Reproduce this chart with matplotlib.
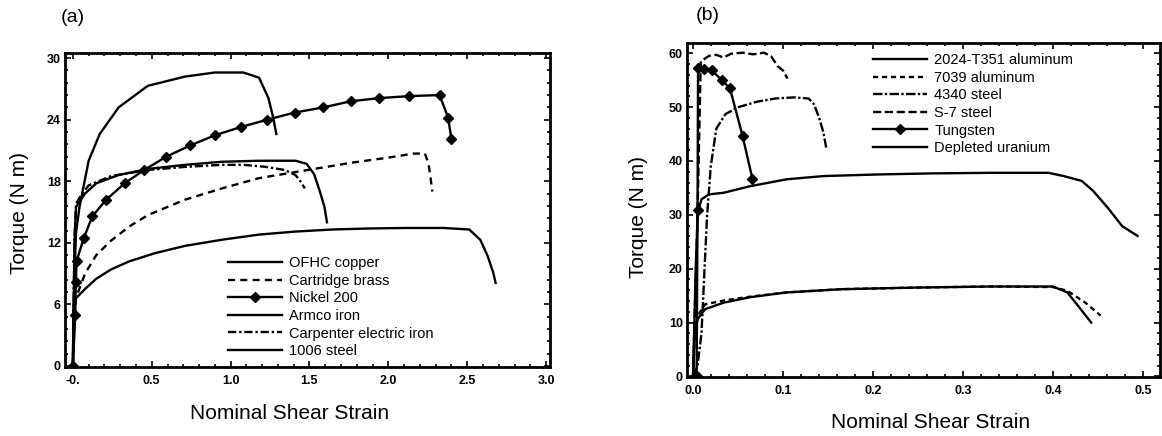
import matplotlib
matplotlib.use("Agg")
import matplotlib.pyplot as plt
from matplotlib.ticker import MultipleLocator, FixedLocator, FixedFormatter

plt.rcParams['font.family'] = ['Liberation Sans', 'DejaVu Sans']

# ---------------- Panel (a) data ----------------
a_labels = ["OFHC copper", "Cartridge brass", "Nickel 200", "Armco iron",
            "Carpenter electric iron", "1006 steel"]

# bottom solid curve
copper_x = [0.0, 0.003, 0.007, 0.077, 0.148, 0.241, 0.358, 0.522, 0.71, 0.944, 1.178,
            1.412, 1.646, 1.88, 2.115, 2.349, 2.513, 2.583, 2.63, 2.665, 2.68]
copper_y = [0.0, 4.5, 6.4, 7.5, 8.5, 9.4, 10.2, 11.0, 11.7, 12.3, 12.8,
            13.1, 13.3, 13.4, 13.45, 13.45, 13.3, 12.3, 10.7, 9.1, 8.1]

brass_x = [0.0, 0.01, 0.019, 0.077, 0.148, 0.241, 0.358, 0.475, 0.71, 0.944, 1.178,
           1.412, 1.529, 1.763, 1.998, 2.162, 2.232, 2.255, 2.267, 2.279]
brass_y = [0.0, 4.5, 6.6, 9.0, 10.8, 12.2, 13.6, 14.7, 16.2, 17.3, 18.3,
           18.9, 19.2, 19.8, 20.3, 20.7, 20.7, 19.7, 18.4, 17.0]

nickel_x = [0.0, 0.015, 0.019, 0.023, 0.070, 0.124, 0.211, 0.328, 0.452, 0.593, 0.745,
            0.904, 1.068, 1.232, 1.407, 1.588, 1.763, 1.939, 2.131, 2.325, 2.379, 2.40]
nickel_y = [0.0, 5.0, 8.2, 10.2, 12.5, 14.6, 16.2, 17.8, 19.1, 20.4, 21.5,
            22.5, 23.3, 24.0, 24.7, 25.2, 25.8, 26.1, 26.3, 26.4, 24.2, 22.1]

armco_x = [0.0, 0.01, 0.02, 0.077, 0.148, 0.288, 0.475, 0.71, 0.944, 1.178, 1.412,
           1.482, 1.529, 1.564, 1.595, 1.611]
armco_y = [0.0, 12.0, 15.5, 16.8, 17.8, 18.6, 19.2, 19.6, 19.9, 20.0, 20.0,
           19.7, 18.7, 17.1, 15.5, 14.0]

carp_x = [0.0, 0.01, 0.02, 0.042, 0.10, 0.241, 0.475, 0.71, 0.944, 1.084, 1.225,
          1.342, 1.412, 1.447, 1.471]
carp_y = [0.0, 12.5, 15.8, 16.4, 17.6, 18.5, 19.1, 19.4, 19.6, 19.6, 19.4,
          19.1, 18.6, 17.9, 17.3]

# top solid curve
steel_x = [0.0, 0.01, 0.02, 0.042, 0.10, 0.17, 0.29, 0.475, 0.71, 0.90, 1.08,
           1.18, 1.24, 1.27, 1.29]
steel_y = [0.0, 9.0, 13.0, 15.5, 20.0, 22.6, 25.2, 27.3, 28.2, 28.6, 28.6,
           28.1, 26.1, 24.2, 22.6]

a_xticks = [0.0, 0.5, 1.0, 1.5, 2.0, 2.5, 3.0]
a_xticklabels = ["-0.", "0.5", "1.0", "1.5", "2.0", "2.5", "3.0"]
a_yticks = [0, 6, 12, 18, 24, 30]

# ---------------- Panel (b) data ----------------
b_labels = ["2024-T351 aluminum", "7039 aluminum", "4340 steel", "S-7 steel",
            "Tungsten", "Depleted uranium"]

al2024_x = [0.0, 0.002, 0.0053, 0.0135, 0.034, 0.063, 0.104, 0.165, 0.2475, 0.33,
            0.40, 0.416, 0.428, 0.4425]
al2024_y = [0.0, 8.0, 10.7, 12.5, 13.7, 14.7, 15.6, 16.2, 16.5, 16.7,
            16.7, 15.6, 13.1, 10.0]

al7039_x = [0.0, 0.002, 0.0053, 0.0135, 0.034, 0.063, 0.104, 0.165, 0.2475, 0.33,
            0.40, 0.416, 0.436, 0.453]
al7039_y = [0.0, 8.5, 11.3, 13.4, 14.1, 14.8, 15.6, 16.2, 16.5, 16.7,
            16.6, 15.9, 13.7, 11.3]

s4340_x = [0.0, 0.005, 0.0094, 0.0156, 0.0197, 0.0259, 0.036, 0.0505, 0.071, 0.0915,
           0.112, 0.1285, 0.1346, 0.1408, 0.145, 0.148]
s4340_y = [0.0, 2.0, 8.0, 29.8, 39.0, 46.0, 48.7, 50.0, 51.0, 51.6,
           51.8, 51.6, 50.5, 47.7, 45.2, 42.5]

s7_x = [0.0, 0.005, 0.0086, 0.0177, 0.0259, 0.034, 0.042, 0.055, 0.067, 0.079,
        0.087, 0.094, 0.10, 0.105]
s7_y = [0.0, 30.0, 58.5, 59.5, 59.7, 59.2, 59.9, 60.1, 59.8, 60.1,
        59.4, 57.6, 56.8, 55.3]

tung_x = [0.004, 0.005, 0.0056, 0.012, 0.021, 0.032, 0.041, 0.055, 0.066]
tung_y = [0.0, 30.9, 57.2, 57.0, 56.8, 55.0, 53.5, 44.7, 36.7]

du_x = [0.0, 0.003, 0.0053, 0.0094, 0.0177, 0.034, 0.063, 0.104, 0.145, 0.206,
        0.268, 0.33, 0.395, 0.412, 0.432, 0.445, 0.461, 0.477, 0.494]
du_y = [0.0, 20.0, 30.4, 32.9, 33.8, 34.1, 35.3, 36.6, 37.2, 37.5,
        37.7, 37.8, 37.8, 37.2, 36.3, 34.4, 31.3, 27.9, 26.1]

b_xticks = [0.0, 0.1, 0.2, 0.3, 0.4, 0.5]
b_xticklabels = ["0.0", "0.1", "0.2", "0.3", "0.4", "0.5"]
b_yticks = [0, 10, 20, 30, 40, 50, 60]

# ---------------- figure ----------------
W, H = 1162, 436
fig = plt.figure(figsize=(W / 100, H / 100), dpi=100)

def px_axes(l, r, t, b):
    return fig.add_axes([l / W, 1 - b / H, (r - l) / W, (b - t) / H])

ax1 = px_axes(65, 550, 53, 367)
ax2 = px_axes(687, 1160, 43, 377)

LW = 1.7
ax1.plot(copper_x, copper_y, color='black', lw=LW, ls='-', label=a_labels[0])
ax1.plot(brass_x, brass_y, color='black', lw=LW, ls=(0, (3.0, 2.2)), label=a_labels[1])
ax1.plot(nickel_x, nickel_y, color='black', lw=LW, ls='-', marker='D', markersize=4.6,
         label=a_labels[2])
ax1.plot(armco_x, armco_y, color='black', lw=LW, ls='-', label=a_labels[3])
ax1.plot(carp_x, carp_y, color='black', lw=LW, ls=(0, (3.5, 1.2, 1.0, 1.2)), label=a_labels[4])
ax1.plot(steel_x, steel_y, color='black', lw=LW, ls='-', label=a_labels[5])

ax1.set_xlim(-0.05, 3.025)
ax1.set_ylim(-0.1, 30.5)

ax2.plot(al2024_x, al2024_y, color='black', lw=LW, ls='-', label=b_labels[0])
ax2.plot(al7039_x, al7039_y, color='black', lw=LW, ls=(0, (2.2, 1.6)), label=b_labels[1])
ax2.plot(s4340_x, s4340_y, color='black', lw=LW, ls=(0, (4.0, 1.0, 1.0, 1.0)), label=b_labels[2])
ax2.plot(s7_x, s7_y, color='black', lw=LW, ls=(0, (3.5, 1.5)), label=b_labels[3])
ax2.plot(tung_x, tung_y, color='black', lw=LW, ls='-', marker='D', markersize=4.6,
         label=b_labels[4])
ax2.plot(du_x, du_y, color='black', lw=LW, ls='-', label=b_labels[5])

ax2.set_xlim(-0.0067, 0.519)
ax2.set_ylim(-0.1, 61.9)

for ax, xt, xtl, yt, xminor, yminor in (
        (ax1, a_xticks, a_xticklabels, a_yticks, 0.1, 1.2),
        (ax2, b_xticks, b_xticklabels, b_yticks, 0.02, 2.0)):
    ax.xaxis.set_major_locator(FixedLocator(xt))
    ax.xaxis.set_major_formatter(FixedFormatter(xtl))
    ax.yaxis.set_major_locator(FixedLocator(yt))
    ax.xaxis.set_minor_locator(MultipleLocator(xminor))
    ax.yaxis.set_minor_locator(MultipleLocator(yminor))
    ax.tick_params(which='both', direction='in', top=True, right=True, width=1.2)
    ax.tick_params(which='major', length=4)
    ax.tick_params(which='minor', length=2)
    ax.tick_params(axis='x', which='major', pad=6)
    ax.tick_params(axis='y', which='major', pad=3)
    for lab in ax.get_xticklabels() + ax.get_yticklabels():
        lab.set_fontsize(9)
        lab.set_fontweight('bold')
    for s in ax.spines.values():
        s.set_linewidth(2.0)
    ax.set_xlabel("Nominal Shear Strain", fontsize=15)
    ax.set_ylabel("Torque (N m)", fontsize=15)

ax1.xaxis.set_label_coords(0.464, -0.118)
ax1.yaxis.set_label_coords(-0.074, 0.49)
ax2.xaxis.set_label_coords(0.514, -0.108)
ax2.yaxis.set_label_coords(-0.082, 0.479)

leg_kw = dict(frameon=False, fontsize=10.5, handlelength=3.7, handletextpad=0.5,
              labelspacing=0.25, borderpad=0, borderaxespad=0, loc='upper left',
              numpoints=1)
ax1.legend(bbox_to_anchor=(228 / W, 1 - 256 / H), bbox_transform=fig.transFigure, **leg_kw)
ax2.legend(bbox_to_anchor=(873 / W, 1 - 53 / H), bbox_transform=fig.transFigure, **leg_kw)

fig.text(73 / W, 1 - 18 / H, "(a)", fontsize=14, ha='center', va='center')
fig.text(708 / W, 1 - 15 / H, "(b)", fontsize=14, ha='center', va='center')

fig.savefig("out.png", dpi=100)
